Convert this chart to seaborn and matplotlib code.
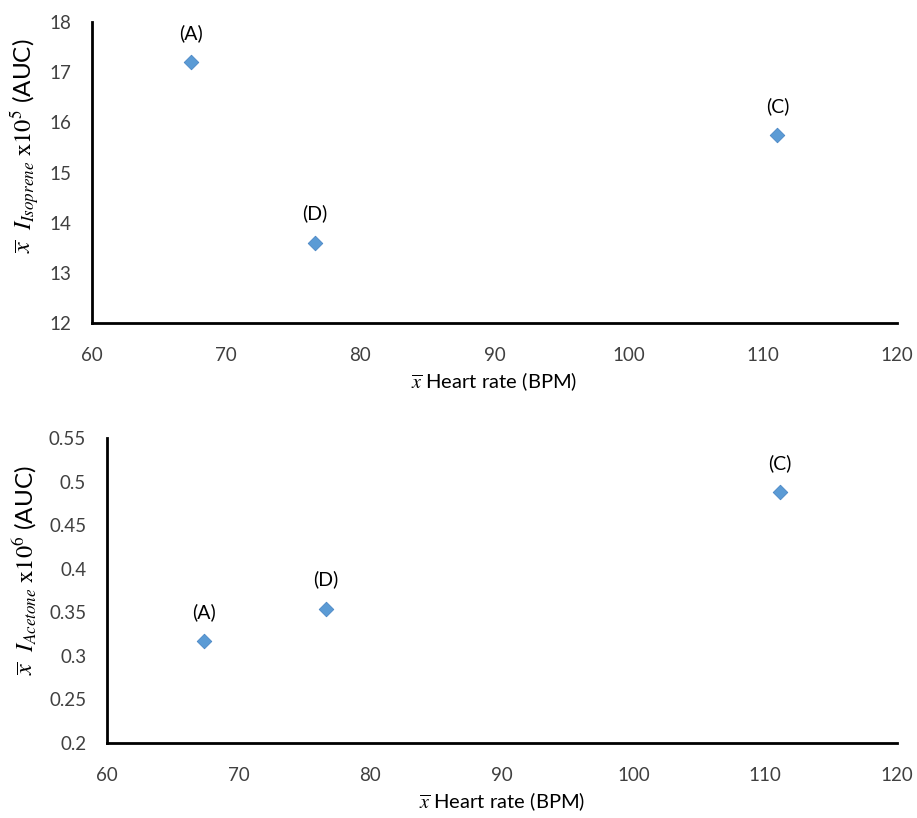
import matplotlib
matplotlib.use("Agg")
import matplotlib.pyplot as plt
import seaborn as sns
import pandas as pd

labels = ["(A)", "(D)", "(C)"]
heart_rate = [67.4, 76.6, 111.1]
isoprene = [17.2, 13.6, 15.75]
acetone = [0.317, 0.354, 0.488]

sns.set_theme(style="white")
plt.rcParams['font.family'] = ['Lato', 'DejaVu Sans']
plt.rcParams['mathtext.fontset'] = 'stix'

df = pd.DataFrame({"label": labels, "hr": heart_rate, "iso": isoprene, "ace": acetone})

fig = plt.figure(figsize=(9.17, 8.18), dpi=100)
ax1 = fig.add_axes([0.1003, 0.605, 0.8777, 0.368])
ax2 = fig.add_axes([0.1167, 0.0917, 0.8613, 0.3728])

color = "#5B9BD5"
tick_color = "#404040"

def style(ax):
    for s in ["top", "right"]:
        ax.spines[s].set_visible(False)
    for s in ["left", "bottom"]:
        ax.spines[s].set_color("black")
        ax.spines[s].set_linewidth(2)
    ax.tick_params(axis="x", length=0, labelsize=13.5, labelcolor=tick_color, pad=17)
    ax.tick_params(axis="y", length=0, labelsize=13.5, labelcolor=tick_color, pad=15)
    ax.grid(False)

sns.scatterplot(data=df, x="hr", y="iso", ax=ax1, marker="D", s=55, color=color,
                edgecolor="#4a86c5", linewidth=0.6, zorder=3, clip_on=False)
sns.scatterplot(data=df, x="hr", y="ace", ax=ax2, marker="D", s=55, color=color,
                edgecolor="#4a86c5", linewidth=0.6, zorder=3, clip_on=False)

ax1.set_xlim(60, 120)
ax1.set_ylim(12, 18)
ax1.set_xticks(range(60, 121, 10))
ax1.set_yticks(range(12, 19, 1))
ax2.set_xlim(60, 120)
ax2.set_ylim(0.2, 0.55)
ax2.set_xticks(range(60, 121, 10))
ax2.set_yticks([0.2, 0.25, 0.3, 0.35, 0.4, 0.45, 0.5, 0.55])
ax2.set_yticklabels(["0.2", "0.25", "0.3", "0.35", "0.4", "0.45", "0.5", "0.55"])

for ax, col in [(ax1, "iso"), (ax2, "ace")]:
    style(ax)
    for _, r in df.iterrows():
        ax.annotate(r["label"], (r["hr"], r[col]), xytext=(0, 21), textcoords="offset points",
                    ha="center", va="center", fontsize=14, color="black")

ax1.set_xlabel(r"$\overline{x}$ Heart rate (BPM)", fontsize=14.5, color="black", labelpad=5)
ax2.set_xlabel(r"$\overline{x}$ Heart rate (BPM)", fontsize=14.5, color="black", labelpad=5)
ax1.set_ylabel(r"$\overline{x}\ \ I_{Isoprene}\ \mathrm{x10}^{5}$ (AUC)", fontsize=17.5, color="black")
ax2.set_ylabel(r"$\overline{x}\ \ I_{Acetone}\ \mathrm{x10}^{6}$ (AUC)", fontsize=17.5, color="black")
for ax, x_px, y_frac in [(ax1, 25, 0.59), (ax2, 25, 0.567)]:
    ax.yaxis.label.set_va("center")
    bbox = ax.get_position()
    left_px = bbox.x0 * 917
    width_px = bbox.width * 917
    ax.yaxis.set_label_coords((x_px - left_px) / width_px, y_frac)

fig.savefig("out.png", dpi=100)
